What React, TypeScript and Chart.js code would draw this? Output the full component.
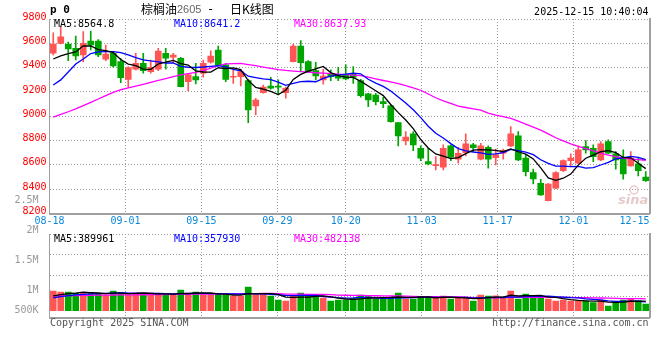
import { useEffect, useRef } from 'react';
import { Chart, registerables } from 'chart.js';

Chart.register(...registerables);

// ---------- data ----------
const dates = [
  '08-18','08-19','08-20','08-21','08-22','08-25','08-26','08-27','08-28','08-29',
  '09-01','09-02','09-03','09-04','09-05','09-08','09-09','09-10','09-11','09-12',
  '09-15','09-16','09-17','09-18','09-19','09-22','09-23','09-24','09-25','09-26',
  '09-29','09-30','10-09','10-10','10-13','10-14','10-15','10-16','10-17',
  '10-20','10-21','10-22','10-23','10-24','10-27','10-28','10-29','10-30','10-31',
  '11-03','11-04','11-05','11-06','11-07','11-10','11-11','11-12','11-13','11-14',
  '11-17','11-18','11-19','11-20','11-21','11-24','11-25','11-26','11-27','11-28',
  '12-01','12-02','12-03','12-04','12-05','12-08','12-09','12-10','12-11','12-12',
  '12-15',
];
const tickDates = ['08-18','09-01','09-15','09-29','10-20','11-03','11-17','12-01','12-15'];

const opens = [9518,9600,9594,9559,9504,9619,9619,9469,9518,9449, 9304,9387,9436,9367,9387,9518,9485,9477,9285,9326, 9354,9444,9545,9422,9321,9326,9293,9085,9194,9249, 9241,9194,9449,9578,9449,9375,9299,9348,9331,9340, 9348,9293,9184,9175,9120,9085,8948,8797,8855,8737, 8627,8594,8581,8756,8647,8701,8764,8647,8745,8660, 8696,8756,8838,8655,8537,8449,8306,8408,8553,8635, 8614,8750,8737,8641,8792,8690,8655,8592,8608,8499];
const highs = [9687,9737,9611,9660,9696,9701,9630,9586,9531,9477, 9408,9518,9518,9463,9559,9559,9518,9485,9348,9436, 9463,9539,9578,9436,9381,9387,9304,9148,9257,9321, 9299,9239,9594,9622,9457,9444,9387,9381,9403,9422, 9408,9304,9189,9189,9156,9093,8950,8874,8874,8756, 8737,8668,8764,8764,8745,8855,8778,8778,8756,8729, 8729,8915,8874,8682,8565,8482,8449,8545,8641,8690, 8756,8800,8764,8792,8805,8709,8723,8709,8655,8545];
const lows = [9504,9594,9457,9463,9449,9545,9490,9457,9403,9276, 9239,9381,9354,9354,9375,9387,9436,9241,9211,9266, 9321,9436,9414,9285,9271,9249,8948,9011,9189,9222, 9175,9148,9447,9367,9359,9299,9263,9293,9293,9299, 9271,9156,9079,9093,9071,8951,8756,8764,8717,8635, 8600,8559,8559,8635,8614,8674,8709,8640,8573,8600, 8647,8750,8635,8509,8444,8349,8304,8405,8545,8592, 8608,8696,8627,8635,8690,8565,8482,8590,8509,8463];
const closes = [9594,9654,9553,9496,9600,9586,9504,9512,9414,9317, 9400,9436,9375,9403,9537,9477,9504,9243,9340,9299, 9436,9496,9422,9304,9326,9367,9052,9134,9239,9230, 9239,9230,9578,9441,9367,9331,9331,9326,9313,9307, 9321,9170,9134,9120,9104,8956,8838,8828,8764,8655, 8608,8597,8737,8663,8696,8773,8742,8756,8647,8682, 8717,8855,8641,8545,8485,8353,8441,8537,8635,8655, 8723,8723,8668,8773,8696,8641,8526,8655,8553,8471];

const ma5 = [9471,9496,9516,9529,9579,9578,9548,9540,9523,9467, 9429,9416,9388,9386,9430,9446,9459,9433,9420,9373, 9364,9363,9399,9391,9397,9383,9294,9237,9224,9204, 9179,9214,9303,9344,9371,9389,9410,9359,9334,9322, 9320,9287,9249,9210,9170,9097,9030,8969,8898,8808, 8739,8690,8672,8652,8660,8693,8722,8726,8723,8720, 8709,8731,8708,8688,8649,8576,8493,8472,8490,8524, 8598,8655,8681,8708,8717,8700,8661,8658,8614,8569];
const ma10 = [9257,9299,9364,9430,9471,9516,9529,9531,9531,9523, 9504,9482,9464,9455,9448,9438,9438,9411,9403,9401, 9405,9411,9416,9406,9385,9374,9329,9318,9308,9301, 9281,9254,9270,9284,9288,9284,9312,9331,9339,9346, 9355,9349,9304,9272,9246,9208,9159,9109,9054,8989, 8918,8860,8821,8775,8734,8716,8706,8699,8687,8690, 8701,8727,8717,8705,8684,8642,8612,8590,8589,8586, 8587,8574,8577,8599,8620,8649,8658,8670,8661,8643];
const ma30 = [8993,9015,9037,9060,9087,9114,9142,9169,9197,9218, 9233,9248,9263,9279,9295,9310,9326,9341,9351,9361, 9375,9395,9416,9431,9433,9435,9425,9416,9405,9394, 9384,9377,9372,9367,9363,9358,9354,9350,9346,9342, 9338,9334,9321,9307,9294,9282,9269,9252,9233,9214, 9183,9152,9126,9105,9084,9072,9061,9050,9026,9010, 8997,8983,8960,8936,8911,8886,8855,8823,8798,8773, 8752,8734,8716,8697,8680,8668,8656,8650,8644,8638];

const volumes = [798000,757000,757000,717000,717000,717000,676000,636000,798000,717000, 636000,717000,717000,717000,636000,636000,636000,838000,717000,757000, 636000,636000,676000,636000,595000,595000,960000,636000,676000,595000, 433000,393000,595000,717000,595000,595000,514000,393000,433000,433000, 502000,636000,567000,474000,474000,543000,717000,474000,474000,567000, 543000,543000,595000,474000,502000,502000,393000,636000,595000,607000, 502000,798000,474000,676000,595000,543000,474000,393000,433000,393000, 393000,393000,324000,433000,190000,352000,433000,502000,405000,271000];
const volMa5 = [600000,650000,690000,715000,749000,733000,717000,693000,709000,709000, 693000,701000,717000,701000,685000,685000,668000,693000,693000,717000, 717000,717000,684000,668000,636000,628000,692000,684000,692000,692000, 660000,547000,538000,547000,547000,579000,603000,563000,506000,474000, 455000,479000,514000,522000,531000,539000,555000,536000,536000,555000, 555000,520000,544000,544000,531000,523000,493000,501000,526000,547000, 547000,628000,595000,611000,609000,617000,552000,536000,488000,447000, 417000,401000,387000,387000,347000,338000,346000,382000,376000,389961];
const volMa10 = [520000,570000,610000,640000,660000,680000,695000,705000,715000,729000, 713000,709000,705000,705000,697000,689000,685000,705000,697000,701000, 701000,693000,689000,680000,676000,672000,705000,684000,680000,664000, 644000,620000,611000,620000,620000,620000,575000,551000,526000,510000, 517000,541000,539000,514000,502000,497000,517000,525000,529000,543000, 547000,538000,540000,540000,543000,539000,507000,523000,535000,539000, 535000,560000,548000,569000,578000,582000,590000,566000,550000,528000, 517000,477000,462000,437000,397000,378000,374000,385000,382000,357930];
const volMa30 = [600000,604000,611000,614000,620000,626000,627000,633000,636000,637000, 641000,644000,645000,650000,653000,654000,659000,662000,663000,668000, 671000,672000,677000,680000,681000,686000,691000,692000,697000,698000, 686000,674000,668000,668000,664000,660000,655000,647000,634000,625000, 621000,618000,613000,605000,599000,596000,599000,587000,579000,572000, 569000,566000,563000,558000,555000,552000,533000,533000,530000,531000, 533000,546000,542000,541000,541000,539000,538000,538000,538000,537000, 533000,525000,517000,515000,506000,500000,490000,491000,489000,482138];

const priceLegendValues = ['8564.8', '8641.2', '8637.93'];
const volLegendValues = ['389961', '357930', '482138'];
const maNames = ['MA5', 'MA10', 'MA30'];
const volTickValues = [500000, 1000000, 1500000, 2000000, 2500000];
const volTickLabels = ['500K', '1M', '1.5M', '2M', '2.5M'];

const headerCode = 'p 0';
const titleName = '棕榈油';
const titleContract = '2605';
const titleSep = '-';
const titleKind = '日K线图';
const timestamp = '2025-12-15 10:40:04';
const copyright = 'Copyright 2025 SINA.COM';
const siteUrl = 'http://finance.sina.com.cn';
const watermark = 'sina';

// ---------- styles / axis ranges ----------
const RED = '#ff5555';
const GREEN = '#00a600';
const GRID = '#9a9a9a';
const FRAME = '#a0a0a0';
const DOT = [1, 2];
const MONO = '"DejaVu Sans Mono", monospace';
const MONO_FAMILY = 'DejaVu Sans Mono';
const MA_COLORS = ['#000000', '#0000ff', '#ff00ff'];
const DATE_COLOR = '#0a88d8';

const PRICE_MIN = 8200;
const PRICE_MAX = 9800;
const PRICE_STEP = 200;
const VOL_MIN = -275300;
const VOL_MAX = 3105300;
const VOL_LABEL_MIN = 541700;
const VOL_LABEL_MAX = 1933300;
const AXIS_W = 49.5;

const candleColors = closes.map((c, i) => (c >= opens[i] ? RED : GREEN));

function dateGridAxis(borderWidth: number): any {
  return {
    type: 'linear',
    position: 'bottom',
    offset: false,
    min: 0,
    max: dates.length - 1,
    afterBuildTicks: (s: any) => {
      s.ticks = tickDates.map((d) => ({ value: dates.indexOf(d) }));
    },
    afterFit: (s: any) => {
      s.height = 0;
    },
    ticks: { display: false },
    grid: { offset: false, color: GRID, lineWidth: 1, drawTicks: false },
    border: { display: true, color: FRAME, width: borderWidth, dash: DOT },
  };
}

const rightFrameAxis: any = {
  type: 'linear',
  position: 'right',
  display: true,
  ticks: { display: false },
  grid: { display: false },
  border: { display: true, color: FRAME, width: 2 },
  afterFit: (s: any) => {
    s.width = 0;
  },
};

function lineDataset(label: string, data: number[], color: string, yAxisID: string): any {
  return {
    type: 'line',
    label,
    data,
    borderColor: color,
    backgroundColor: color,
    borderWidth: 1.3,
    pointRadius: 0,
    tension: 0,
    fill: false,
    order: 0,
    yAxisID,
    xAxisID: 'x',
  };
}

const priceTextPlugin: any = {
  id: 'priceText',
  afterDraw(chart: any) {
    const { ctx, chartArea } = chart;
    const xd = chart.scales.xd;
    ctx.save();
    ctx.textBaseline = 'middle';
    ctx.textAlign = 'left';

    ctx.fillStyle = '#000';
    ctx.font = `bold 11px ${MONO}`;
    ctx.fillText(headerCode, 50, 10.5);

    ctx.font = '12px "Noto Sans CJK SC"';
    ctx.fillText(titleName, 141, 9.5);
    ctx.fillStyle = '#666';
    ctx.font = '11px "Liberation Sans"';
    ctx.fillText(titleContract, 177, 10);
    ctx.fillStyle = '#000';
    ctx.font = `12px ${MONO}`;
    ctx.fillText(titleSep, 207, 9.5);
    ctx.font = '12px "Noto Sans CJK SC"';
    ctx.fillText(titleKind, 230, 9.5);

    ctx.font = `10px ${MONO}`;
    ctx.textAlign = 'right';
    ctx.fillText(timestamp, chartArea.right - 1, 12);

    ctx.textAlign = 'left';
    const legendX = [54, 174, 294];
    maNames.forEach((n, k) => {
      ctx.fillStyle = MA_COLORS[k];
      ctx.fillText(`${n}:${priceLegendValues[k]}`, legendX[k], 24);
    });

    ctx.fillStyle = DATE_COLOR;
    tickDates.forEach((d) => {
      const px = xd.getPixelForValue(dates.indexOf(d));
      const w = ctx.measureText(d).width;
      if (px + w / 2 > chartArea.right) {
        ctx.textAlign = 'right';
        ctx.fillText(d, chartArea.right, 221);
      } else {
        ctx.textAlign = 'center';
        ctx.fillText(d, px, 221);
      }
    });

    // watermark
    ctx.textAlign = 'left';
    ctx.textBaseline = 'alphabetic';
    ctx.fillStyle = 'rgba(205,150,150,0.5)';
    ctx.font = 'italic bold 13px "DejaVu Sans"';
    ctx.fillText(watermark, 618, 204);
    ctx.strokeStyle = 'rgba(220,150,150,0.5)';
    ctx.lineWidth = 1.5;
    ctx.beginPath();
    ctx.arc(634, 190, 4, 0, Math.PI * 2);
    ctx.stroke();
    ctx.restore();
  },
};

const volumeTextPlugin: any = {
  id: 'volumeText',
  afterDraw(chart: any) {
    const { ctx, chartArea } = chart;
    ctx.save();
    ctx.textBaseline = 'middle';
    ctx.textAlign = 'left';
    ctx.font = `10px ${MONO}`;
    const legendX = [54, 174, 294];
    maNames.forEach((n, k) => {
      ctx.fillStyle = MA_COLORS[k];
      ctx.fillText(`${n}:${volLegendValues[k]}`, legendX[k], 239);
    });
    ctx.fillStyle = '#555';
    ctx.fillText(copyright, 50, 323.5);
    ctx.textAlign = 'right';
    ctx.fillText(siteUrl, chartArea.right - 1, 323.5);
    ctx.restore();
  },
};

function priceConfig(): any {
  return {
    type: 'bar',
    data: {
      labels: dates,
      datasets: [
        lineDataset('MA5', ma5, MA_COLORS[0], 'y'),
        lineDataset('MA10', ma10, MA_COLORS[1], 'y'),
        lineDataset('MA30', ma30, MA_COLORS[2], 'y'),
        {
          type: 'bar',
          label: 'body',
          data: dates.map((_, i) => [opens[i], closes[i]]),
          backgroundColor: candleColors,
          barThickness: 6,
          minBarLength: 1,
          grouped: false,
          order: 1,
          yAxisID: 'y',
          xAxisID: 'x',
        },
        {
          type: 'bar',
          label: 'wick',
          data: dates.map((_, i) => [lows[i], highs[i]]),
          backgroundColor: candleColors,
          barThickness: 1,
          grouped: false,
          order: 2,
          yAxisID: 'y',
          xAxisID: 'x',
        },
      ],
    },
    options: {
      responsive: false,
      animation: false,
      devicePixelRatio: 1,
      events: [],
      layout: { padding: { left: 0, top: 19, right: 10.5, bottom: 146.5 } },
      plugins: { legend: { display: false }, tooltip: { enabled: false } },
      scales: {
        x: { type: 'category', offset: true, display: false },
        xd: dateGridAxis(2),
        y: {
          type: 'linear',
          position: 'left',
          min: PRICE_MIN,
          max: PRICE_MAX,
          afterFit: (s: any) => {
            s.width = AXIS_W;
          },
          ticks: {
            stepSize: PRICE_STEP,
            autoSkip: false,
            color: '#ff0000',
            font: { family: MONO_FAMILY, size: 10 },
            padding: 3,
            labelOffset: -2,
            callback: (v: any) => String(v),
          },
          grid: { color: GRID, lineWidth: 1, drawTicks: false },
          border: { display: true, color: FRAME, width: 1, dash: DOT },
        },
        yr: rightFrameAxis,
      },
    },
    plugins: [priceTextPlugin],
  };
}

function volumeConfig(): any {
  return {
    type: 'bar',
    data: {
      labels: dates,
      datasets: [
        lineDataset('VMA5', volMa5, MA_COLORS[0], 'yv'),
        lineDataset('VMA10', volMa10, MA_COLORS[1], 'yv'),
        lineDataset('VMA30', volMa30, MA_COLORS[2], 'yv'),
        {
          type: 'bar',
          label: 'volume',
          data: volumes,
          backgroundColor: candleColors,
          barThickness: 6,
          grouped: false,
          order: 1,
          yAxisID: 'yv',
          xAxisID: 'x',
        },
      ],
    },
    options: {
      responsive: false,
      animation: false,
      devicePixelRatio: 1,
      events: [],
      layout: { padding: { left: 0, top: 234, right: 10.5, bottom: 42.5 } },
      plugins: { legend: { display: false }, tooltip: { enabled: false } },
      scales: {
        x: { type: 'category', offset: true, display: false },
        xd: dateGridAxis(2),
        yv: { type: 'linear', position: 'left', weight: 0, display: false, min: VOL_MIN, max: VOL_MAX },
        yl: {
          type: 'linear',
          position: 'left',
          weight: 5,
          min: VOL_LABEL_MIN,
          max: VOL_LABEL_MAX,
          afterBuildTicks: (s: any) => {
            const floor = VOL_LABEL_MIN + (VOL_LABEL_MAX - VOL_LABEL_MIN) * 0.088;
            s.ticks = volTickValues.map((v) => ({ value: Math.max(v, floor) }));
          },
          afterFit: (s: any) => {
            s.width = AXIS_W;
          },
          ticks: {
            autoSkip: false,
            color: '#999999',
            font: { family: MONO_FAMILY, size: 10 },
            padding: 3,
            callback: (_v: any, i: number) => volTickLabels[i],
          },
          grid: { display: false },
          border: { display: false },
        },
        yg: {
          type: 'linear',
          position: 'left',
          weight: 0,
          min: 0,
          max: 4,
          afterFit: (s: any) => {
            s.width = 0;
          },
          ticks: { stepSize: 1, display: false },
          grid: { color: GRID, lineWidth: 1, drawTicks: false },
          border: { display: true, color: FRAME, width: 1, dash: DOT },
        },
        yr: rightFrameAxis,
      },
    },
    plugins: [volumeTextPlugin],
  };
}

export default function App() {
  const priceRef = useRef<HTMLCanvasElement>(null);
  const volRef = useRef<HTMLCanvasElement>(null);

  useEffect(() => {
    document.body.style.margin = '0';
    const a = new Chart(priceRef.current as HTMLCanvasElement, priceConfig());
    const b = new Chart(volRef.current as HTMLCanvasElement, volumeConfig());
    return () => {
      a.destroy();
      b.destroy();
    };
  }, []);

  return (
    <div style={{ position: 'relative', width: 660, height: 360, background: '#fff' }}>
      <canvas ref={priceRef} width={660} height={360} style={{ position: 'absolute', left: 0, top: 0 }} />
      <canvas ref={volRef} width={660} height={360} style={{ position: 'absolute', left: 0, top: 0 }} />
    </div>
  );
}
